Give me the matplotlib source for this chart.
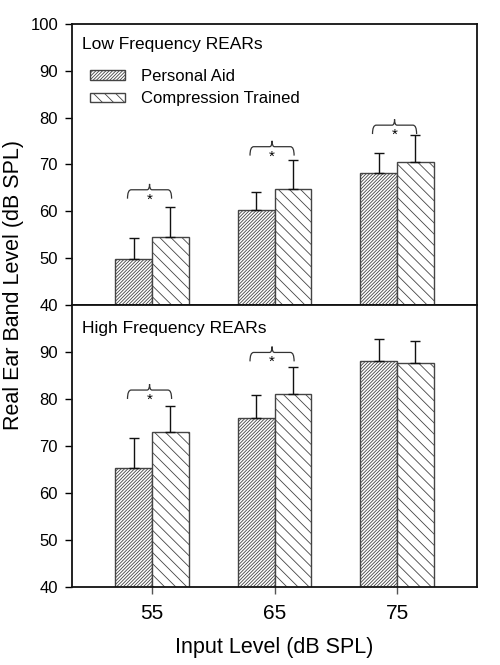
import numpy as np
import matplotlib
matplotlib.use("Agg")
import matplotlib.pyplot as plt
from matplotlib.path import Path
from matplotlib.patches import PathPatch

plt.rcParams['font.family'] = ['Liberation Sans', 'DejaVu Sans']
plt.rcParams['hatch.linewidth'] = 0.6
plt.rcParams['hatch.color'] = '#222222'

categories = ['55', '65', '75']
series_names = ['Personal Aid', 'Compression Trained']

low_personal = [49.8, 60.2, 68.1]
low_personal_err = [4.4, 4.0, 4.3]
low_comp = [54.5, 64.8, 70.6]
low_comp_err = [6.4, 6.2, 5.6]

high_personal = [65.4, 75.9, 88.0]
high_personal_err = [6.3, 5.0, 4.8]
high_comp = [72.9, 81.1, 87.7]
high_comp_err = [5.7, 5.6, 4.7]

low_brace_y = [64.6, 73.8, 78.4]
high_brace_y = [81.9, 89.9, None]

panel_titles = ['Low Frequency REARs', 'High Frequency REARs']
y_ticks_top = [40, 50, 60, 70, 80, 90, 100]
y_ticks_bottom = [40, 50, 60, 70, 80, 90]

fig = plt.figure(figsize=(5, 6.65), dpi=100)
ax_top = fig.add_axes([0.144, 0.5414, 0.81, 0.4225])
ax_bot = fig.add_axes([0.144, 0.1173, 0.81, 0.4241])

x = np.arange(len(categories))
w = 0.3


def brace(ax, c, y):
    xl, xr, xm = c - 0.2, c + 0.16, c - 0.02
    drop, rise, r, rm = 1.9, 1.25, 0.03, 0.02
    verts = [(xl, y - drop), (xl, y), (xl + r, y), (xm - rm, y),
             (xm, y), (xm, y + rise), (xm, y), (xm + rm, y),
             (xr - r, y), (xr, y), (xr, y - drop)]
    codes = [Path.MOVETO, Path.CURVE3, Path.CURVE3, Path.LINETO,
             Path.CURVE3, Path.CURVE3, Path.CURVE3, Path.CURVE3,
             Path.LINETO, Path.CURVE3, Path.CURVE3]
    ax.add_patch(PathPatch(Path(verts, codes), fill=False, edgecolor='#333333', lw=0.9))
    ax.text(xm, y - 0.6, '*', ha='center', va='top', fontsize=11, color='black')


def draw_panel(ax, pers, pers_err, comp, comp_err, braces, title, yticks, title_y):
    b1 = ax.bar(x - w / 2, pers, w, color='white', edgecolor='#444444',
                linewidth=1.0, hatch='/' * 10, label=series_names[0], zorder=2)
    b2 = ax.bar(x + w / 2, comp, w, color='white', edgecolor='#444444',
                linewidth=1.0, hatch='\\' * 3, label=series_names[1], zorder=2)
    zeros = np.zeros(len(x))
    ax.errorbar(x - w / 2, pers, yerr=[zeros, pers_err], fmt='none', ecolor='#111111',
                elinewidth=1.0, capsize=3.5, capthick=1.0, zorder=3)
    ax.errorbar(x + w / 2, comp, yerr=[zeros, comp_err], fmt='none', ecolor='#111111',
                elinewidth=1.0, capsize=3.5, capthick=1.0, zorder=3)
    for c, by in zip(x, braces):
        if by is not None:
            brace(ax, c, by)
    ax.set_ylim(40, 100)
    ax.set_xlim(-0.653, 2.653)
    ax.set_yticks(yticks)
    ax.set_xticks(x)
    ax.tick_params(axis='y', direction='out', length=5, width=1, pad=5, labelsize=12)
    ax.tick_params(axis='x', direction='out', length=5, width=1, pad=7, labelsize=15,
                   color='#555555')
    for s in ax.spines.values():
        s.set_linewidth(1.3)
        s.set_color('#111111')
    ax.text(0.025, title_y, title, transform=ax.transAxes, fontsize=12.5,
            ha='left', va='baseline')
    return b1, b2


draw_panel(ax_top, low_personal, low_personal_err, low_comp, low_comp_err,
           low_brace_y, panel_titles[0], y_ticks_top, 0.912)
ax_top.set_xticklabels([])
draw_panel(ax_bot, high_personal, high_personal_err, high_comp, high_comp_err,
           high_brace_y, panel_titles[1], y_ticks_bottom, 0.90)
ax_bot.set_xticklabels(categories)

ax_top.legend(loc='upper left', bbox_to_anchor=(0.044, 0.84), frameon=False,
              fontsize=12, handlelength=2.1, handleheight=0.5, handletextpad=0.95,
              labelspacing=0.45, borderpad=0, borderaxespad=0)

fig.text(0.028, 1 - 285 / 665, 'Real Ear Band Level (dB SPL)', rotation=90,
         ha='center', va='center', fontsize=15.5)
fig.text(0.549, 1 - 647 / 665, 'Input Level (dB SPL)', ha='center', va='center',
         fontsize=15.5)

fig.savefig('out.png', dpi=100)
